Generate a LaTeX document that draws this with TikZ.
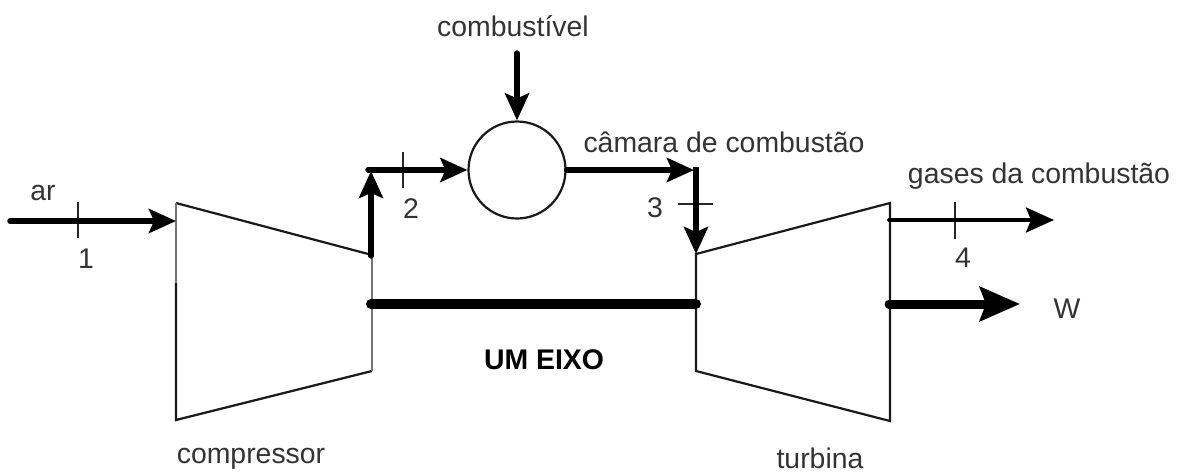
\documentclass[tikz,border=0pt]{standalone}
\usepackage{fontspec}
\setmainfont{Liberation Sans}
\usetikzlibrary{arrows.meta}
\begin{document}
\begin{tikzpicture}[x=1pt,y=-1pt,
 lab/.style={inner sep=0pt,font=\fontsize{28.4}{32}\selectfont,text=black!80},
 thinline/.style={line width=2.2pt,black!90},
 greyline/.style={line width=2.2pt,black!55},
 flow/.style={line width=5.4pt,line cap=round,-{Stealth[length=27pt,width=24pt,inset=5pt]}},
 flowthin/.style={line width=3.8pt,line cap=round,-{Stealth[length=28pt,width=25pt,inset=5pt]}},
 shaft/.style={line width=10pt,line cap=round},
 tick/.style={line width=2.2pt,black!85}]
\useasboundingbox (0,0) rectangle (1181,472);
\coordinate (c1) at (176,203); \coordinate (c2) at (372,255);
\coordinate (c3) at (372,371); \coordinate (c4) at (176,420);
\coordinate (cm) at (176,283);
\coordinate (t1) at (696,254); \coordinate (t2) at (890,203);
\coordinate (t3) at (890,421); \coordinate (t4) at (696,371);
\draw[thinline] (c1)--(c2) (c3)--(c4)--(cm);
\draw[greyline] (c1)--(cm) (c2)--(c3);
\draw[thinline,line join=miter] (t3)--(t4)--(t1)--(t2)--cycle;
\node[draw,circle,line width=2.2pt,minimum size=97pt,inner sep=0pt,black!90] (cc) at (517,170) {};
\coordinate (ar) at (10,221);
\coordinate (cin) at (176,221);
\draw[tick] (78,202)--(78,238);
\draw[flow] (ar)--(cin);
\coordinate (c2o) at (371,256); \coordinate (j2) at (371,171);
\coordinate (j2h) at (368,170);
\draw[flow] (c2o)--(j2);
\draw[tick] (403,152)--(403,188);
\draw[flow] (j2h)--(cc.west);
\coordinate (j3) at (694,170);
\coordinate (j3v) at (696,167);
\draw[flow] (cc.east)--(j3);
\coordinate (t1i) at (696,254);
\draw[tick] (678,204)--(713,204);
\draw[flow,line cap=butt] (j3v)--(t1i);
\coordinate (f0) at (517,53);
\draw[flow] (f0)--(cc.north);
\coordinate (g0) at (889,220); \coordinate (g1) at (1054,220);
\draw[tick] (955,202)--(955,239);
\draw[flowthin] (g0)--(g1);
\coordinate (s0) at (371,304); \coordinate (s1) at (696,304);
\draw[shaft] (s0)--(s1);
\coordinate (w0) at (889,304); \coordinate (w1) at (1020,304);
\draw[line width=9pt,line cap=round,-{Stealth[length=40pt,width=34pt,inset=6pt]}] (w0)--(w1);
\node[lab] (n1) at (43,193) {ar};
\node[lab] (n2) at (86,259) {1};
\node[lab] (n3) at (411,209) {2};
\node[lab] (n4) at (655,208) {3};
\node[lab] (n5) at (963,258) {4};
\node[lab] (n6) at (513,26) {combustível};
\node[lab] (n7) at (724,142) {câmara de combustão};
\node[lab] (n8) at (1039,176) {gases da combustão};
\node[lab] (n9) at (1067,309) {W};
\node[lab,font=\fontsize{28.4}{32}\selectfont\bfseries,text=black] (n10) at (544,360) {UM EIXO};
\node[lab] (n11) at (251,459) {compressor};
\node[lab] (n12) at (820,458) {turbina};
\end{tikzpicture}
\end{document}
